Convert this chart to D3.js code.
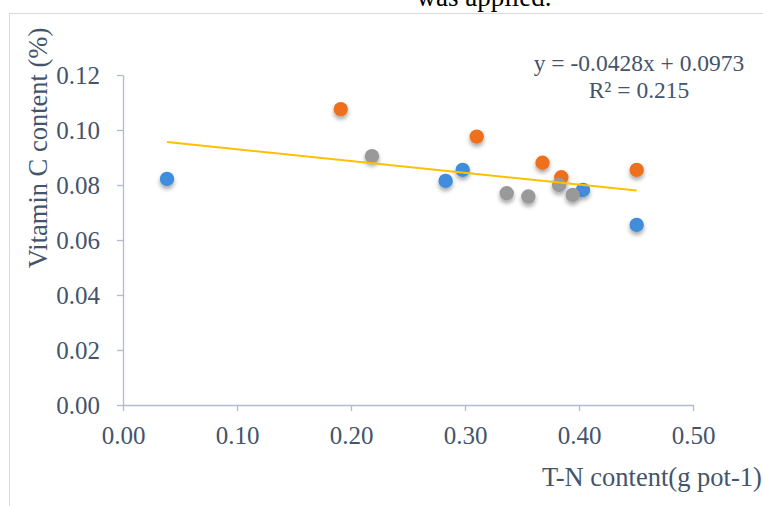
<!DOCTYPE html>
<html><head><meta charset="utf-8">
<script src="https://cdn.jsdelivr.net/npm/d3@7"></script>
<style>
html,body{margin:0;padding:0;background:#fff;overflow:hidden;}
svg{display:block;}
text{font-family:"Liberation Serif","Times New Roman",serif;}
</style></head>
<body><svg id="c" width="763" height="506"></svg>
<script>
// Data
const blueX = [0.0386, 0.283, 0.298, 0.4035, 0.4506];
const blueY = [0.0822, 0.0815, 0.0855, 0.0782, 0.0655];
const orangeX = [0.191, 0.3103, 0.368, 0.3845, 0.4506];
const orangeY = [0.1076, 0.0976, 0.0881, 0.0828, 0.0855];
const grayX = [0.2184, 0.3366, 0.3556, 0.3825, 0.3945];
const grayY = [0.0905, 0.0770, 0.0758, 0.0800, 0.0764];
const xTicks = [0, 0.1, 0.2, 0.3, 0.4, 0.5];
const yTicks = [0, 0.02, 0.04, 0.06, 0.08, 0.10, 0.12];
const slope = -0.0428, intercept = 0.0973;
const trendRange = [0.0386, 0.4506];

const svg = d3.select("#c");
const textColor = "#44546a";
const axisColor = "#b0bccd";
const serif = "'Liberation Serif','Times New Roman',serif";

// frame
svg.append("rect").attr("x",9.5).attr("y",13.5).attr("width",800).attr("height",600)
  .attr("fill","none").attr("stroke","#d9d9d9").attr("stroke-width",1);

// cut-off title
svg.append("text").attr("x",484).attr("y",6).attr("text-anchor","middle")
  .attr("font-size",27).attr("fill","#000").text("was applied.");

const x = d3.scaleLinear().domain([0,0.5]).range([123,693]);
const y = d3.scaleLinear().domain([0,0.12]).range([405,75]);

// shadow filter
const defs = svg.append("defs");
const f = defs.append("filter").attr("id","sh").attr("x","-50%").attr("y","-50%").attr("width","200%").attr("height","220%");
f.append("feDropShadow").attr("dx",0).attr("dy",3).attr("stdDeviation",2)
  .attr("flood-color","#000").attr("flood-opacity",0.35);

// y axis
const gy = svg.append("g").attr("transform","translate(123,0)")
  .call(d3.axisLeft(y).tickValues(yTicks).tickFormat(d3.format(".2f")).tickSize(6).tickSizeOuter(0).tickPadding(17));
gy.selectAll("path,line").attr("stroke",axisColor).attr("stroke-width",1.3);
gy.selectAll("text").attr("font-size",25).attr("fill",textColor).attr("font-family",serif);

// x axis
const gx = svg.append("g").attr("transform","translate(0,405)")
  .call(d3.axisBottom(x).tickValues(xTicks).tickFormat(d3.format(".2f")).tickSize(6).tickSizeOuter(0).tickPadding(15));
gx.selectAll("path,line").attr("stroke",axisColor).attr("stroke-width",1.3);
gx.selectAll("text").attr("font-size",25).attr("fill",textColor).attr("font-family",serif);

// axis titles
svg.append("text").attr("transform","translate(47,148) rotate(-90)").attr("text-anchor","middle")
  .attr("font-size",26.5).attr("fill",textColor).text("Vitamin C content (%)");
svg.append("text").attr("x",542).attr("y",486)
  .attr("font-size",26.5).attr("fill",textColor).text("T-N content(g pot-1)");

// series
const series = [
  {xs: blueX, ys: blueY, color: "#3f8edb"},
  {xs: orangeX, ys: orangeY, color: "#ee6f1c"},
  {xs: grayX, ys: grayY, color: "#999999"}
];
series.forEach(s => {
  const pts = s.xs.map((v,i)=>[v, s.ys[i]]);
  svg.append("g").selectAll("circle").data(pts).join("circle")
    .attr("cx",d=>x(d[0])).attr("cy",d=>y(d[1])).attr("r",7.2)
    .attr("fill",s.color).attr("filter","url(#sh)");
});

// trendline
svg.append("line")
  .attr("x1",x(trendRange[0])).attr("y1",y(slope*trendRange[0]+intercept))
  .attr("x2",x(trendRange[1])).attr("y2",y(slope*trendRange[1]+intercept))
  .attr("stroke","#ffc000").attr("stroke-width",2);

// equation
svg.append("text").attr("x",639).attr("y",71).attr("text-anchor","middle")
  .attr("font-size",23.5).attr("fill",textColor).text("y = -0.0428x + 0.0973");
svg.append("text").attr("x",639).attr("y",98).attr("text-anchor","middle")
  .attr("font-size",23.5).attr("fill",textColor).text("R² = 0.215");
</script></body></html>
